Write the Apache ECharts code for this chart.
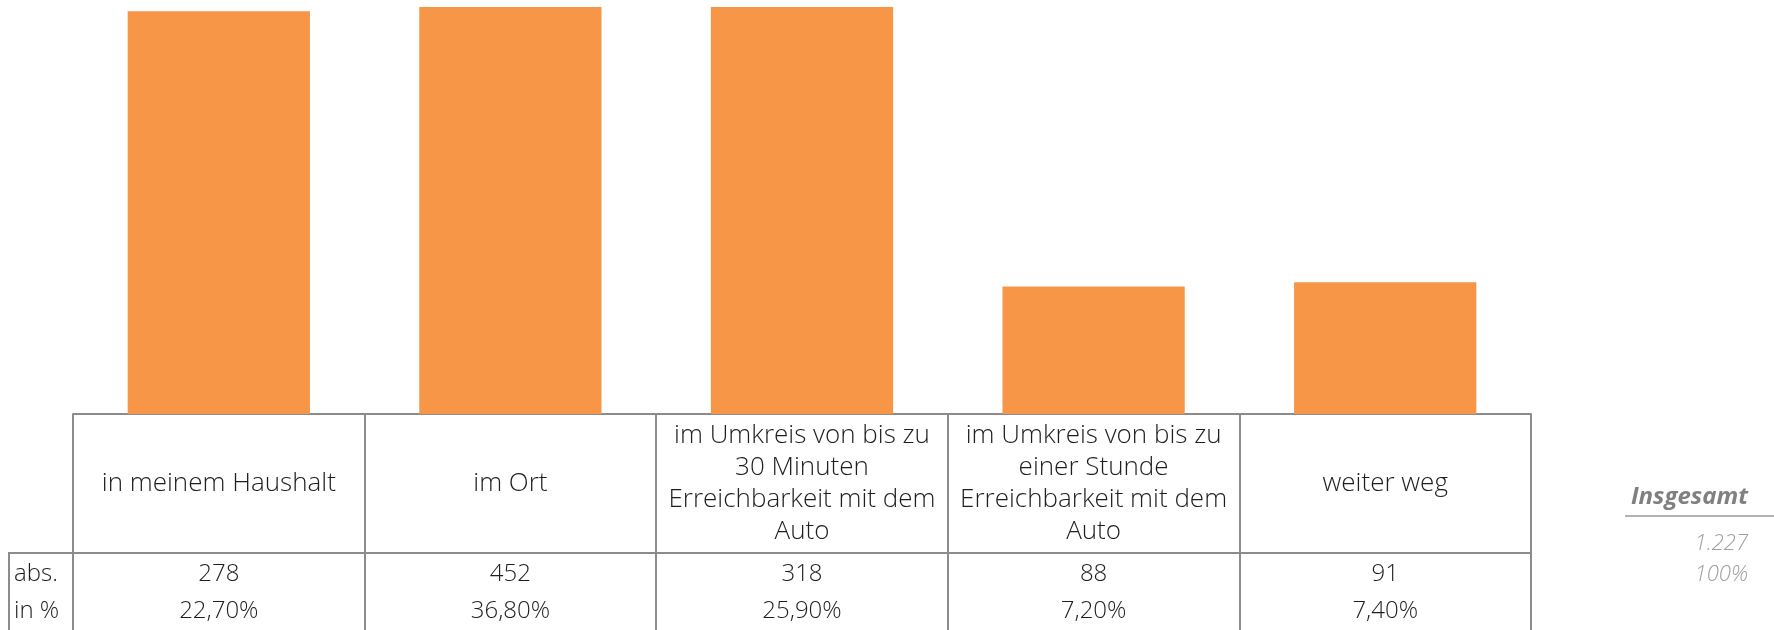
<!DOCTYPE html>
<html>
<head>
<meta charset="utf-8">
<script src="https://cdn.jsdelivr.net/npm/echarts@6/dist/echarts.min.js"></script>
<style>
  html, body { margin: 0; padding: 0; background: #fff; }
  #chart { width: 1774px; height: 630px; }
</style>
</head>
<body>
<div id="chart"></div>
<script>
// data
const categories = [
  'in meinem Haushalt',
  'im Ort',
  'im Umkreis von bis zu\n30 Minuten\nErreichbarkeit mit dem\nAuto',
  'im Umkreis von bis zu\neiner Stunde\nErreichbarkeit mit dem\nAuto',
  'weiter weg'
];
const absValues = [278, 452, 318, 88, 91];
const pctLabels = ['22,70%', '36,80%', '25,90%', '7,20%', '7,40%'];
const rowLabels = ['abs.', 'in %'];
const totalTitle = 'Insgesamt';
const totalAbs = '1.227';
const totalPct = '100%';
const yMax = 281; // bars higher than this are cut off, as in the original

// layout
const W = 1774, H = 630;
const gridLeft = 73, gridRight = 243, gridTop = 7, gridBottom = 216;
const headerH = 139, rowH = 37;
const lineColor = '#8c8c8c';
const textColor = '#1e1e1e';
const font = 'Open Sans';

const axisBottom = H - gridBottom;

const chart = echarts.init(document.getElementById('chart'));

function tableAxis(offset, formatter, showLine, tickLen) {
  return {
    type: 'category',
    gridIndex: 0,
    position: 'bottom',
    offset: offset,
    data: categories,
    axisLine: { show: showLine, onZero: false, lineStyle: { color: lineColor, width: 2 } },
    axisTick: { show: tickLen > 0, length: tickLen, interval: 0, alignWithLabel: false,
      lineStyle: { color: lineColor, width: 2 } },
    axisLabel: {
      interval: 0,
      margin: rowH / 2 + 3,
      verticalAlign: 'middle',
      color: textColor,
      fontFamily: font,
      fontWeight: 300,
      fontSize: 24,
      formatter: formatter
    },
    splitLine: { show: false }
  };
}

const option = {
  animation: false,
  backgroundColor: '#fff',
  grid: { left: gridLeft, right: gridRight, top: gridTop, bottom: gridBottom },
  xAxis: [
    {
      type: 'category',
      gridIndex: 0,
      position: 'bottom',
      data: categories,
      axisLine: { show: true, onZero: false, lineStyle: { color: lineColor, width: 2 } },
      axisTick: { show: true, length: headerH, interval: 0, alignWithLabel: false,
        lineStyle: { color: lineColor, width: 2 } },
      axisLabel: {
        interval: 0,
        margin: headerH / 2,
        verticalAlign: 'middle',
        color: textColor,
        fontFamily: font,
        fontWeight: 300,
        fontSize: 26,
        lineHeight: 32
      },
      splitLine: { show: false }
    },
    tableAxis(headerH, (v, i) => String(absValues[i]), true, rowH * 2 + 3),
    tableAxis(headerH + rowH, (v, i) => pctLabels[i], false, 0)
  ],
  yAxis: {
    type: 'value',
    min: 0,
    max: yMax,
    show: false,
    splitLine: { show: false }
  },
  series: [{
    type: 'bar',
    xAxisIndex: 0,
    data: absValues,
    barCategoryGap: '37.5%',
    clip: true,
    itemStyle: { color: '#f79646' }
  }],
  graphic: [
    {
      type: 'polyline',
      shape: { points: [[gridLeft, axisBottom + headerH], [9, axisBottom + headerH], [9, H + 2]] },
      style: { stroke: lineColor, lineWidth: 2, fill: null }
    },
    {
      type: 'text', x: 14, y: axisBottom + headerH + rowH / 2 + 3,
      style: { text: rowLabels[0], fill: textColor, font: '300 24px "Open Sans"', verticalAlign: 'middle' }
    },
    {
      type: 'text', x: 14, y: axisBottom + headerH + rowH * 1.5 + 3,
      style: { text: rowLabels[1], fill: textColor, font: '300 24px "Open Sans"', verticalAlign: 'middle' }
    },
    {
      type: 'text', x: 1748, y: 497,
      style: { text: totalTitle, fill: '#808080', font: 'italic bold 24px "Open Sans"', align: 'right', verticalAlign: 'middle' }
    },
    {
      type: 'line',
      shape: { x1: 1625, y1: 516, x2: W, y2: 516 },
      style: { stroke: '#b4b4b4', lineWidth: 2 }
    },
    {
      type: 'text', x: 1748, y: 544,
      style: { text: totalAbs, fill: '#a0a0a0', font: 'italic 300 22px "Open Sans"', align: 'right', verticalAlign: 'middle' }
    },
    {
      type: 'text', x: 1748, y: 575,
      style: { text: totalPct, fill: '#a0a0a0', font: 'italic 300 22px "Open Sans"', align: 'right', verticalAlign: 'middle' }
    }
  ]
};

chart.setOption(option);
</script>
</body>
</html>
